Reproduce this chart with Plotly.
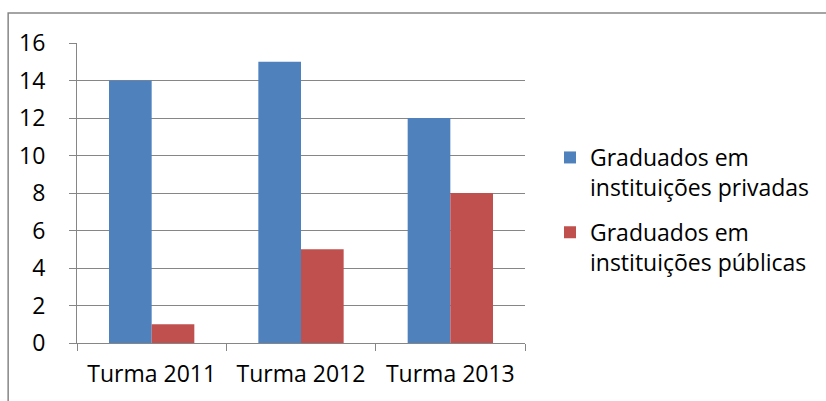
import plotly.graph_objects as go

categories = ["Turma 2011", "Turma 2012", "Turma 2013"]
privadas = [14, 15, 12]
publicas = [1, 5, 8]
names = ["Graduados em<br>instituições privadas", "Graduados em<br>instituições públicas"]
colors = ["#4F81BD", "#C0504D"]

W, H = 826, 401
L, R, T, B = 77, 526, 43, 343
FONT = "Open Sans"
FS = 23

fig = go.Figure()
for i, (vals, name, col) in enumerate(zip([privadas, publicas], names, colors)):
    fig.add_trace(go.Bar(x=categories, y=vals, name=name, legendgroup=f"g{i}",
                         marker=dict(color=col, line=dict(width=0))))

def px(x):
    return (x - L) / (R - L)
def py(y):
    return (B - y) / (B - T)

fig.update_layout(
    width=W, height=H,
    margin=dict(l=L, r=W - R, t=T, b=H - B),
    paper_bgcolor="white", plot_bgcolor="white",
    barmode="group", bargap=0.4286, bargroupgap=0,
    font=dict(family=FONT, size=FS, color="black"),
    showlegend=True,
    legend=dict(x=px(550), y=py(136), xanchor="left", yanchor="top", valign="top",
                font=dict(family=FONT, size=FS, color="black"),
                itemwidth=30, tracegroupgap=12, bgcolor="rgba(0,0,0,0)"),
    shapes=[dict(type="rect", xref="paper", yref="paper",
                 x0=px(8), x1=px(840), y0=py(420), y1=py(13),
                 line=dict(color="#868686", width=1.5), fillcolor="rgba(0,0,0,0)", layer="below")],
)
fig.update_yaxes(range=[0, 16], dtick=2, showgrid=True, gridcolor="#868686", gridwidth=1,
                 showline=True, linecolor="#868686", linewidth=1, ticks="outside", ticklen=7,
                 tickcolor="#868686", zeroline=False, tickfont=dict(size=FS), ticklabelstandoff=19)
fig.update_xaxes(showline=True, linecolor="#868686", linewidth=1, ticks="outside", ticklen=7,
                 tickcolor="#868686", tickson="boundaries", tickfont=dict(size=FS), showgrid=False,
                 ticklabelstandoff=10)
fig.write_html("out.html")
